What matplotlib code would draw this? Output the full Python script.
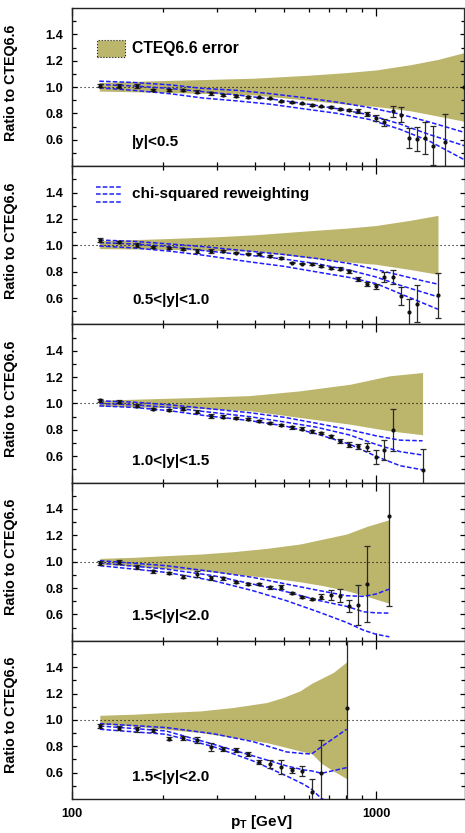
import matplotlib
matplotlib.use("Agg")
import matplotlib.pyplot as plt
from matplotlib.ticker import FixedLocator, NullFormatter, FuncFormatter
from matplotlib.patches import Rectangle
from matplotlib.lines import Line2D

plt.rcParams['font.family'] = ['Liberation Sans', 'DejaVu Sans']
plt.rcParams['font.weight'] = 'bold'
plt.rcParams['mathtext.fontset'] = 'custom'
plt.rcParams['mathtext.rm'] = 'Liberation Sans:bold'
plt.rcParams['mathtext.bf'] = 'Liberation Sans:bold'

BAND_COLOR = '#bcb56c'
LINE_COLOR = '#1e1eff'

# === DATA ===
# jet pT bin centres [GeV]
pt_bins = [123.5, 143, 163.5, 185, 208, 232.5, 258.5, 286, 315, 346, 378.5,
           412.5, 449, 487.5, 527.5, 570, 615, 662, 711.5, 763.5, 818, 875.5,
           936, 999.5, 1066.5, 1136.5, 1210, 1287.5, 1368.5, 1453.5, 1542.5]

regions = ['|y|<0.5', '0.5<|y|<1.0', '1.0<|y|<1.5', '1.5<|y|<2.0', '1.5<|y|<2.0']

# data / CTEQ6.6
pt_1 = pt_bins + [1686, 1950]
ratio_1 = [1.01, 1.007, 1.007, 0.98, 0.98, 0.977, 0.965, 0.952, 0.942, 0.934, 0.927,
           0.922, 0.914, 0.891, 0.884, 0.876, 0.866, 0.854, 0.846, 0.833, 0.825, 0.819,
           0.795, 0.766, 0.732, 0.816, 0.79, 0.614, 0.606, 0.614, 0.556, 0.586, 1.0]
err_1 = [0.012, 0.015, 0.015, 0.006, 0.006, 0.008, 0.01, 0.012, 0.006, 0.006, 0.006,
         0.006, 0.006, 0.006, 0.006, 0.006, 0.006, 0.006, 0.008, 0.008, 0.01, 0.015,
         0.015, 0.02, 0.025, 0.04, 0.057, 0.075, 0.09, 0.125, 0.15, 0.21, 0.6]

pt_2 = pt_bins[:29] + [1603]
ratio_2 = [1.043, 1.025, 1.0, 0.987, 0.98, 0.97, 0.96, 0.957, 0.955, 0.944, 0.937,
           0.932, 0.92, 0.904, 0.869, 0.861, 0.856, 0.843, 0.828, 0.823, 0.803, 0.747,
           0.705, 0.688, 0.76, 0.76, 0.614, 0.495, 0.558, 0.621]
err_2 = [0.015, 0.01, 0.015, 0.008, 0.008, 0.008, 0.015, 0.015, 0.008, 0.006, 0.006,
         0.006, 0.006, 0.006, 0.006, 0.006, 0.006, 0.006, 0.008, 0.01, 0.01, 0.015,
         0.015, 0.02, 0.04, 0.053, 0.07, 0.1, 0.14, 0.17]

pt_3 = pt_bins[:26] + [1424]
ratio_3 = [1.025, 1.015, 0.982, 0.957, 0.952, 0.962, 0.937, 0.904, 0.899, 0.889, 0.881,
           0.869, 0.851, 0.838, 0.818, 0.81, 0.788, 0.775, 0.75, 0.712, 0.687, 0.674,
           0.667, 0.596, 0.646, 0.798, 0.495]
err_3 = [0.01, 0.01, 0.012, 0.008, 0.008, 0.01, 0.012, 0.015, 0.012, 0.008, 0.008,
         0.008, 0.008, 0.008, 0.008, 0.008, 0.008, 0.008, 0.01, 0.015, 0.02, 0.02,
         0.03, 0.055, 0.078, 0.16, 0.16]

pt_4 = pt_bins[:23] + [1107]
ratio_4 = [0.99, 1.0, 0.957, 0.927, 0.914, 0.886, 0.906, 0.873, 0.873, 0.848, 0.83,
           0.83, 0.805, 0.81, 0.762, 0.729, 0.716, 0.734, 0.747, 0.742, 0.666, 0.673,
           0.83, 1.344]
err_4 = [0.012, 0.015, 0.015, 0.01, 0.01, 0.01, 0.02, 0.015, 0.01, 0.008, 0.01,
         0.01, 0.012, 0.015, 0.008, 0.008, 0.01, 0.02, 0.035, 0.05, 0.045, 0.15,
         0.29, 0.68]

pt_5 = pt_bins[:18] + [801]
ratio_5 = [0.954, 0.942, 0.929, 0.922, 0.858, 0.861, 0.848, 0.797, 0.782, 0.77, 0.739,
           0.681, 0.663, 0.643, 0.618, 0.613, 0.453, 0.6, 1.089]
err_5 = [0.015, 0.015, 0.02, 0.012, 0.012, 0.015, 0.02, 0.03, 0.015, 0.015, 0.015,
         0.015, 0.03, 0.05, 0.02, 0.04, 0.1, 0.25, 0.7]

# CTEQ6.6 PDF error band
band_pt_1 = [123, 200, 300, 400, 600, 800, 1000, 1300, 1600, 1960]
band_hi_1 = [1.035, 1.05, 1.06, 1.068, 1.09, 1.11, 1.13, 1.17, 1.21, 1.263]
band_lo_1 = [0.97, 0.96, 0.95, 0.94, 0.9, 0.87, 0.853, 0.82, 0.78, 0.74]

band_pt_2 = [123, 200, 300, 400, 600, 800, 1000, 1300, 1600]
band_hi_2 = [1.035, 1.05, 1.065, 1.08, 1.11, 1.13, 1.15, 1.19, 1.227]
band_lo_2 = [0.975, 0.97, 0.96, 0.955, 0.905, 0.875, 0.856, 0.816, 0.78]

band_pt_3 = [123, 250, 385, 562, 822, 1107, 1424]
band_hi_3 = [1.025, 1.045, 1.06, 1.096, 1.146, 1.21, 1.235]
band_lo_3 = [0.98, 0.965, 0.945, 0.894, 0.843, 0.793, 0.763]

band_pt_4 = [123.5, 159, 204, 264, 339, 437, 562, 671, 801, 934, 1107]
band_hi_4 = [1.025, 1.033, 1.046, 1.058, 1.076, 1.101, 1.134, 1.172, 1.21, 1.268, 1.319]
band_lo_4 = [0.982, 0.965, 0.949, 0.932, 0.906, 0.881, 0.848, 0.818, 0.78, 0.737, 0.684]

band_pt_5 = [123.5, 159, 204, 264, 339, 437, 495, 562, 615, 662, 724, 801]
band_hi_5 = [1.035, 1.043, 1.056, 1.068, 1.094, 1.132, 1.17, 1.22, 1.278, 1.315, 1.36, 1.44]
band_lo_5 = [0.967, 0.954, 0.929, 0.904, 0.866, 0.828, 0.797, 0.765, 0.744, 0.67, 0.613, 0.554]

# chi-squared reweighting (upper / central / lower)
rw_pt_1 = [123, 160, 210, 270, 350, 450, 580, 750, 950, 1200, 1500, 1950]
rw_hi_1 = [1.045, 1.035, 1.017, 0.99, 0.975, 0.95, 0.92, 0.885, 0.845, 0.795, 0.735, 0.657]
rw_mid_1 = [1.02, 1.008, 0.99, 0.965, 0.94, 0.91, 0.875, 0.835, 0.79, 0.72, 0.64, 0.556]
rw_lo_1 = [0.995, 0.975, 0.95, 0.917, 0.895, 0.87, 0.835, 0.8, 0.755, 0.68, 0.59, 0.45]

rw_pt_2 = [123, 160, 210, 270, 385, 500, 638, 822, 1000, 1200, 1400, 1600]
rw_hi_2 = [1.04, 1.03, 1.01, 0.99, 0.955, 0.93, 0.9, 0.861, 0.816, 0.773, 0.735, 0.705]
rw_mid_2 = [1.02, 1.01, 0.99, 0.96, 0.924, 0.895, 0.861, 0.81, 0.76, 0.697, 0.65, 0.609]
rw_lo_2 = [0.995, 0.98, 0.955, 0.925, 0.874, 0.84, 0.798, 0.755, 0.71, 0.634, 0.57, 0.515]

rw_pt_3 = [123, 160, 210, 270, 385, 500, 638, 822, 1000, 1200, 1424]
rw_hi_3 = [1.02, 1.01, 0.99, 0.965, 0.93, 0.895, 0.85, 0.8, 0.755, 0.722, 0.717]
rw_mid_3 = [1.0, 0.99, 0.97, 0.94, 0.9, 0.86, 0.82, 0.76, 0.69, 0.635, 0.609]
rw_lo_3 = [0.982, 0.97, 0.945, 0.91, 0.87, 0.83, 0.77, 0.69, 0.6, 0.528, 0.497]

rw_pt_4 = [123.5, 204, 292, 394, 508, 654, 801, 911, 1000, 1107]
rw_hi_4 = [1.008, 0.97, 0.924, 0.881, 0.83, 0.78, 0.742, 0.737, 0.755, 0.792]
rw_mid_4 = [0.99, 0.944, 0.894, 0.83, 0.772, 0.704, 0.661, 0.62, 0.612, 0.61]
rw_lo_4 = [0.97, 0.919, 0.856, 0.78, 0.704, 0.615, 0.539, 0.48, 0.45, 0.43]

rw_pt_5 = [123.5, 204, 292, 394, 508, 580, 615, 662, 801]
rw_hi_5 = [0.972, 0.942, 0.895, 0.835, 0.757, 0.744, 0.742, 0.797, 0.929]
rw_mid_5 = [0.954, 0.916, 0.815, 0.727, 0.651, 0.62, 0.613, 0.595, 0.638]
rw_lo_5 = [0.929, 0.891, 0.797, 0.689, 0.575, 0.51, 0.473, 0.403, 0.33]

panels = [
    (pt_1, ratio_1, err_1, band_pt_1, band_lo_1, band_hi_1, rw_pt_1, rw_hi_1, rw_mid_1, rw_lo_1),
    (pt_2, ratio_2, err_2, band_pt_2, band_lo_2, band_hi_2, rw_pt_2, rw_hi_2, rw_mid_2, rw_lo_2),
    (pt_3, ratio_3, err_3, band_pt_3, band_lo_3, band_hi_3, rw_pt_3, rw_hi_3, rw_mid_3, rw_lo_3),
    (pt_4, ratio_4, err_4, band_pt_4, band_lo_4, band_hi_4, rw_pt_4, rw_hi_4, rw_mid_4, rw_lo_4),
    (pt_5, ratio_5, err_5, band_pt_5, band_lo_5, band_hi_5, rw_pt_5, rw_hi_5, rw_mid_5, rw_lo_5),
]
label_y = [0.152, 0.157, 0.134, 0.154, 0.138]

# === FIGURE ===
fig = plt.figure(figsize=(4.65, 8.33), dpi=100)
fig.subplots_adjust(left=72 / 465, right=464.5 / 465, top=1 - 8 / 833,
                    bottom=1 - 799 / 833, hspace=0)
axes = fig.subplots(5, 1, sharex=True)

for i, ax in enumerate(axes):
    pt, ratio, err, bpt, blo, bhi, rpt, rhi, rmid, rlo = panels[i]
    ax.fill_between(bpt, blo, bhi, color=BAND_COLOR, lw=0, zorder=1)
    ax.axhline(1.0, color='k', ls=(0, (1, 2.6)), lw=0.8, zorder=2)
    for curve in (rhi, rmid, rlo):
        ax.plot(rpt, curve, color=LINE_COLOR, lw=1.1, dashes=(3, 1.4), zorder=3)
    ax.errorbar(pt, ratio, yerr=err, fmt='o', ms=2.0, color='#111111',
                ecolor='#2a2a2a', elinewidth=0.9, capsize=2.2, capthick=0.9, zorder=4)

    ax.set_xscale('log')
    ax.set_xlim(100, 1956)
    ax.set_ylim(0.4, 1.6)
    ax.yaxis.set_major_locator(FixedLocator([0.6, 0.8, 1.0, 1.2, 1.4]))
    ax.yaxis.set_minor_locator(FixedLocator([0.5, 0.7, 0.9, 1.1, 1.3, 1.5]))
    ax.yaxis.set_major_formatter(FuncFormatter(lambda v, p: f'{v:.1f}'))
    ax.xaxis.set_major_locator(FixedLocator([100, 1000]))
    ax.xaxis.set_minor_locator(FixedLocator([200, 300, 400, 500, 600, 700, 800, 900]))
    ax.xaxis.set_minor_formatter(NullFormatter())
    ax.xaxis.set_major_formatter(FuncFormatter(lambda v, p: f'{v:.0f}'))
    ax.tick_params(which='both', direction='in', top=True, right=True,
                   labelsize=9.2, pad=6.5, width=0.9)
    ax.tick_params(axis='y', which='major', length=3.6)
    ax.tick_params(axis='y', which='minor', length=2.9)
    ax.tick_params(axis='x', which='major', length=5.5)
    ax.tick_params(axis='x', which='minor', length=3.2)
    for s in ax.spines.values():
        s.set_linewidth(1.0)
        s.set_color('#222222')

    ax.set_ylabel('Ratio to CTEQ6.6', fontsize=10.3, fontweight='bold')
    ax.yaxis.set_label_coords(-0.138, 0.53)
    ax.text(0.153, label_y[i], regions[i], transform=ax.transAxes,
            fontsize=11, fontweight='bold', va='center', ha='left')

# legends
ax = axes[0]
ax.add_patch(Rectangle((0.0637, 0.69), 0.0713, 0.107, transform=ax.transAxes,
                       facecolor=BAND_COLOR, edgecolor='#222222', ls=':', lw=0.8,
                       zorder=5))
ax.text(0.153, 0.743, 'CTEQ6.6 error', transform=ax.transAxes, fontsize=11.3,
        fontweight='bold', va='center', ha='left')

ax = axes[1]
for yy in (0.870, 0.822, 0.774):
    ax.add_line(Line2D([0.061, 0.127], [yy, yy], transform=ax.transAxes,
                       color=LINE_COLOR, lw=1.1, dashes=(3, 1.4)))
ax.text(0.153, 0.822, 'chi-squared reweighting', transform=ax.transAxes,
        fontsize=11, fontweight='bold', va='center', ha='left')

axes[-1].set_xlabel(r'p$_\mathbf{T}$ [GeV]', fontsize=11, fontweight='bold')
axes[-1].xaxis.set_label_coords(0.4815, -0.09)

fig.savefig('out.png', dpi=100)
